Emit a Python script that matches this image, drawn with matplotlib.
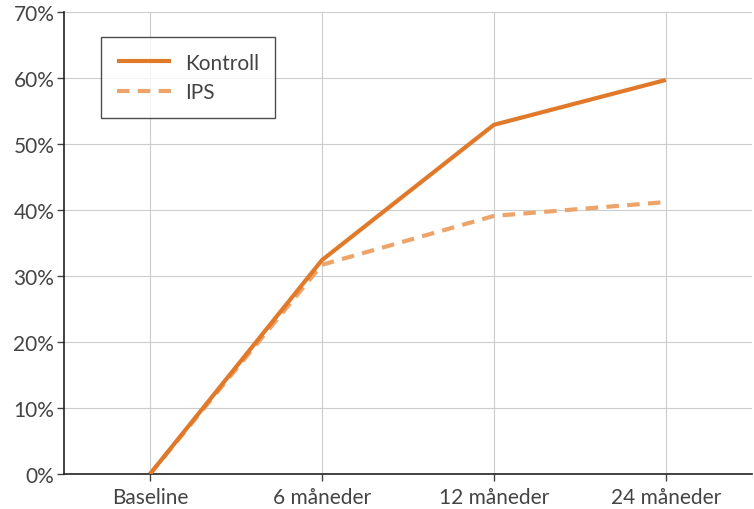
import matplotlib.pyplot as plt
from matplotlib.ticker import PercentFormatter

categories = ['Baseline', '6 måneder', '12 måneder', '24 måneder']
kontroll = [0.0, 32.4, 52.9, 59.7]
ips = [0.0, 31.7, 39.1, 41.2]
yticks = [0, 10, 20, 30, 40, 50, 60, 70]

plt.rcParams['font.family'] = ['Lato', 'DejaVu Sans']
text_color = '#444444'

fig = plt.figure(figsize=(7.54, 5.10), dpi=100)
ax = fig.add_axes([0.0849, 0.0686, 0.9121, 0.906])

x = range(len(categories))
ax.plot(x, kontroll, color='#e07a2a', lw=3, label='Kontroll', solid_capstyle='butt', zorder=3)
ax.plot(x, ips, color='#eda46a', lw=3, ls=(0, (3, 2)), label='IPS', zorder=2)

ax.set_xlim(-0.5, 3.5)
ax.set_ylim(0, 70)
ax.set_xticks(list(x))
ax.set_xticklabels(categories)
ax.set_yticks(yticks)
ax.yaxis.set_major_formatter(PercentFormatter(decimals=0))
ax.grid(True, color='#cccccc', lw=0.8)
ax.set_axisbelow(True)

for side in ('top', 'right'):
    ax.spines[side].set_visible(False)
for side in ('left', 'bottom'):
    ax.spines[side].set_color('#222222')
    ax.spines[side].set_linewidth(1.2)

ax.tick_params(axis='both', labelsize=15, colors=text_color, length=5, width=1, direction='out')
ax.tick_params(axis='x', pad=4)
ax.tick_params(axis='y', pad=2)

leg = ax.legend(loc='upper left', bbox_to_anchor=(0.054, 0.946), fontsize=15, frameon=True,
                fancybox=False, edgecolor='#222222', handlelength=2.6, borderpad=0.75,
                labelspacing=0.45, handletextpad=0.7, borderaxespad=0)
leg.get_frame().set_linewidth(1.0)
for t in leg.get_texts():
    t.set_color(text_color)

fig.savefig('out.png', dpi=100)
